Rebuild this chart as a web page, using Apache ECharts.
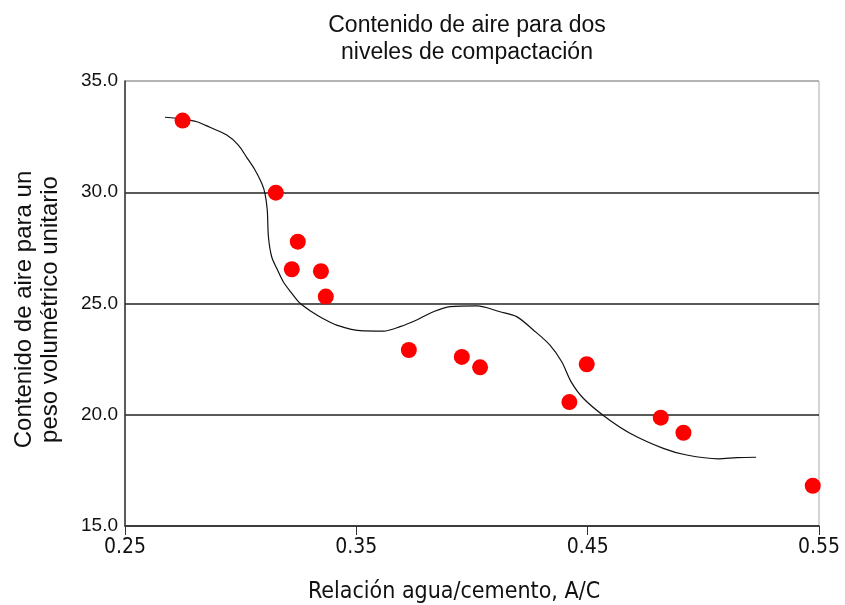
<!DOCTYPE html>
<html>
<head>
<meta charset="utf-8">
<script src="https://cdn.jsdelivr.net/npm/echarts@6/dist/echarts.min.js"></script>
<style>html,body{margin:0;padding:0;background:#fff;}#c{width:845px;height:605px;}</style>
</head>
<body>
<div id="c"></div>
<script>
// Measured points
const pointX = [0.2749, 0.3152, 0.3247, 0.3221, 0.3347, 0.3368, 0.3727, 0.3956, 0.4035, 0.4496, 0.4421, 0.4816, 0.4914, 0.5473];
const pointY = [33.22, 29.98, 27.78, 26.54, 26.45, 25.31, 22.91, 22.60, 22.13, 22.27, 20.57, 19.87, 19.19, 16.81];
// Fitted curve (as drawn)
const curveX = [0.2673, 0.2752, 0.2810, 0.2867, 0.2940, 0.2990, 0.3026, 0.3062, 0.3091, 0.3105, 0.3115, 0.3120, 0.3134, 0.3156, 0.3184, 0.3221, 0.3257, 0.3307, 0.3355, 0.3415, 0.3516, 0.3617, 0.3689, 0.3761, 0.3833, 0.3905, 0.4021, 0.4121, 0.4193, 0.4265, 0.4337, 0.4388, 0.4428, 0.4481, 0.4575, 0.4683, 0.4827, 0.4928, 0.5065, 0.5145, 0.5228];
const curveY = [33.37, 33.28, 33.17, 32.92, 32.57, 32.12, 31.57, 31.00, 30.40, 29.95, 29.20, 28.00, 27.10, 26.58, 25.98, 25.46, 25.01, 24.63, 24.33, 24.03, 23.78, 23.76, 23.96, 24.26, 24.63, 24.86, 24.89, 24.63, 24.41, 23.81, 23.13, 22.38, 21.49, 20.74, 19.91, 19.17, 18.49, 18.19, 18.02, 18.07, 18.09];
const xTicks = [0.25, 0.35, 0.45, 0.55];
const yTicks = [15, 20, 25, 30, 35];

const chart = echarts.init(document.getElementById('c'));
const font = "'Liberation Sans', Arial, sans-serif";
const narrow = "'Liberation Sans Narrow', 'Arial Narrow', 'DejaVu Sans Condensed', 'Liberation Sans', sans-serif";
chart.setOption({
  animation: false,
  backgroundColor: '#fff',
  title: {
    text: 'Contenido de aire para dos\nniveles de compactación',
    left: 462, top: 7, textAlign: 'center',
    textStyle: { fontFamily: font, fontSize: 23, fontWeight: 'normal', color: '#111', lineHeight: 27 }
  },
  grid: { left: 125, right: 26, top: 81, bottom: 79, outerBoundsMode: 'none', containLabel: false,
    show: true, borderColor: '#aaa', borderWidth: 1, backgroundColor: 'transparent' },
  xAxis: {
    type: 'value', min: 0.25, max: 0.55, interval: 0.1,
    name: 'Relación agua/cemento, A/C', nameLocation: 'middle', nameGap: 55,
    nameTextStyle: { fontFamily: narrow, fontSize: 23, color: '#111', padding: [0, 36, 0, 0] },
    axisLine: { show: true, lineStyle: { color: '#333', width: 1.5 } },
    axisTick: { show: true, length: 9, lineStyle: { color: '#333', width: 1 } },
    axisLabel: { fontFamily: narrow, fontSize: 21, color: '#111', margin: 11,
      formatter: v => { const t = xTicks.find(a => Math.abs(a - v) < 1e-6); return t !== undefined ? t.toFixed(2) : ''; } },
    splitLine: { show: false }
  },
  yAxis: {
    type: 'value', min: 15, max: 35, interval: 5,
    name: 'Contenido de aire para un\npeso volumétrico unitario', nameLocation: 'middle', nameGap: 62, nameRotate: 90,
    nameTextStyle: { fontFamily: font, fontSize: 24, color: '#111', lineHeight: 26, padding: [0, 12, 0, 0] },
    axisLine: { show: true, lineStyle: { color: '#333', width: 1.5 } },
    axisTick: { show: false },
    axisLabel: { fontFamily: font, fontSize: 19, color: '#111', margin: 7,
      formatter: v => { const t = yTicks.find(a => Math.abs(a - v) < 1e-6); return t !== undefined ? t.toFixed(1) : ''; } },
    splitLine: { show: true, lineStyle: { color: ['#333', '#222', '#222', '#222', '#aaa'], width: 1.5 } }
  },
  series: [
    {
      type: 'line', data: curveX.map((x, i) => [x, curveY[i]]),
      showSymbol: false, smooth: 0.3, lineStyle: { color: '#111', width: 1.2 }, z: 2
    },
    {
      type: 'scatter', data: pointX.map((x, i) => [x, pointY[i]]),
      symbol: 'circle', symbolSize: 16, itemStyle: { color: '#ff0000', opacity: 1 }, z: 3
    }
  ]
});
</script>
</body>
</html>
